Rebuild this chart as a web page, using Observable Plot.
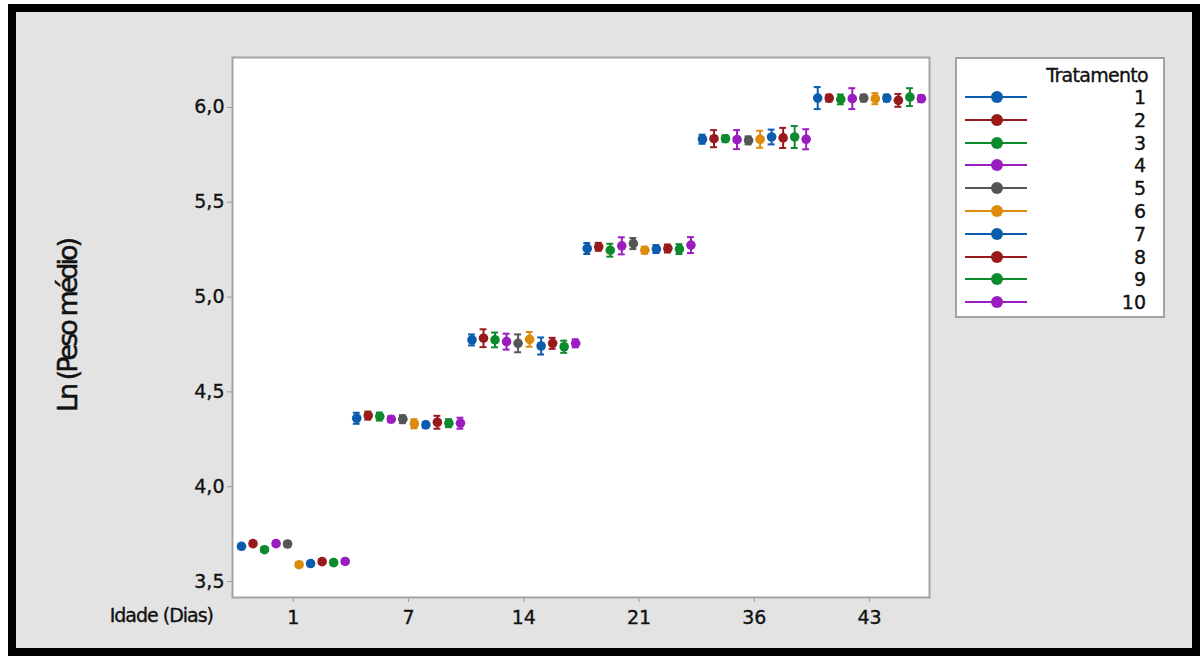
<!DOCTYPE html>
<html>
<head>
<meta charset="utf-8">
<script src="https://cdn.jsdelivr.net/npm/d3@7"></script>
<script src="https://cdn.jsdelivr.net/npm/@observablehq/plot@0.6"></script>
<style>
  html, body { margin: 0; padding: 0; background: #ffffff; }
  #page { position: relative; width: 1202px; height: 661px; overflow: hidden; font-family: "DejaVu Sans", sans-serif; color: #111; }
  #outer { position: absolute; left: 8px; top: 4px; width: 1192px; height: 652px; box-sizing: border-box; border: 8px solid #000; background: #e3e3e3; }
  #chart { position: absolute; left: 0; top: 0; }
  #chart svg text { stroke: #111; stroke-width: 0.35px; }
  .lbl { position: absolute; white-space: nowrap; color: #111; -webkit-text-stroke: 0.35px #111; }
  #ytitle { left: 67px; top: 326px; transform: translate(-50%, -50%) rotate(-90deg); font-size: 27px; letter-spacing: -3px; -webkit-text-stroke: 0.5px #111; }
  #xtitle { right: calc(1202px - 213px); top: 615px; transform: translateY(-50%); font-size: 19px; letter-spacing: -1px; }
  #legend { position: absolute; left: 955px; top: 57px; width: 210px; height: 261px; box-sizing: border-box; border: 2px solid #a3a3a3; background: #fff; }
  #legend .ttl { position: absolute; right: 15px; top: 16px; transform: translateY(-50%); font-size: 19px; letter-spacing: -0.7px; }
  #legend .row { position: absolute; left: 0; width: 206px; height: 22px; }
  #legend .row svg { position: absolute; left: 6px; top: 0; }
  #legend .row span { position: absolute; right: 17px; top: 50%; transform: translateY(-50%); font-size: 19px; -webkit-text-stroke: 0.35px #111; }
</style>
</head>
<body>
<div id="page">
  <div id="outer"></div>
  <div id="chart"></div>
  <div class="lbl" id="ytitle">Ln (Peso médio)</div>
  <div class="lbl" id="xtitle">Idade (Dias)</div>
  <div id="legend"><div class="lbl ttl">Tratamento</div></div>
</div>
<script>
// ---- data ----
const days = ["1", "7", "14", "21", "36", "43"];
const treatments = [1, 2, 3, 4, 5, 6, 7, 8, 9, 10];
const palette = ["#0b5cad", "#981a1a", "#0e8a2e", "#9b1dbf", "#555555", "#dc8c0a", "#0b5cad", "#981a1a", "#0e8a2e", "#9b1dbf"];
const yTicks = [3.5, 4.0, 4.5, 5.0, 5.5, 6.0];

// means of Ln(peso médio) per treatment, by age
const mean1  = [3.686, 3.700, 3.668, 3.700, 3.698, 3.589, 3.595, 3.605, 3.600, 3.606];
const mean7  = [4.361, 4.375, 4.370, 4.356, 4.356, 4.332, 4.326, 4.340, 4.335, 4.335];
const mean14 = [4.774, 4.783, 4.774, 4.765, 4.756, 4.777, 4.742, 4.756, 4.738, 4.756];
const mean21 = [5.256, 5.265, 5.247, 5.270, 5.282, 5.247, 5.253, 5.256, 5.253, 5.274];
const mean36 = [5.832, 5.835, 5.835, 5.830, 5.826, 5.832, 5.844, 5.839, 5.844, 5.832];
const mean43 = [6.049, 6.049, 6.042, 6.046, 6.049, 6.046, 6.049, 6.037, 6.054, 6.046];

// half-width of the 95% intervals
const ci1  = [0.012, 0.012, 0.012, 0.012, 0.012, 0.012, 0.012, 0.012, 0.012, 0.012];
const ci7  = [0.029, 0.021, 0.021, 0.016, 0.021, 0.024, 0.016, 0.034, 0.021, 0.029];
const ci14 = [0.029, 0.047, 0.039, 0.042, 0.047, 0.039, 0.045, 0.029, 0.032, 0.021];
const ci21 = [0.029, 0.021, 0.034, 0.045, 0.029, 0.018, 0.021, 0.021, 0.026, 0.042];
const ci36 = [0.024, 0.045, 0.018, 0.050, 0.021, 0.045, 0.039, 0.053, 0.058, 0.053];
const ci43 = [0.058, 0.018, 0.026, 0.055, 0.018, 0.029, 0.018, 0.034, 0.047, 0.018];

const means = [mean1, mean7, mean14, mean21, mean36, mean43];
const cis = [ci1, ci7, ci14, ci21, ci36, ci43];

const n = treatments.length;
const rows = days.flatMap((d, gi) => treatments.map((t, ti) => ({
  day: d, trat: t, pos: gi * n + ti, mean: means[gi][ti], lo: means[gi][ti] - cis[gi][ti], hi: means[gi][ti] + cis[gi][ti]
})));
const xTicks = days.map((d, i) => i * n + (n - 1) / 2);
const capW = 0.3;

const chart = Plot.plot({
  width: 1202,
  height: 661,
  marginLeft: 232,
  marginRight: 273,
  marginTop: 57,
  marginBottom: 64,
  style: { background: "transparent", fontFamily: "DejaVu Sans, sans-serif", color: "#111", overflow: "visible" },
  x: { domain: [-0.78, days.length * n - 1 + 0.7] },
  y: { domain: [3.416, 6.263] },
  color: { type: "ordinal", domain: treatments, range: palette },
  marks: [
    Plot.frame({ fill: "#ffffff", stroke: null }),
    Plot.axisY({ ticks: yTicks, tickFormat: d => d.toFixed(1).replace(".", ","), tickSize: 5, tickPadding: 3, fontSize: 19, stroke: "#999", fill: "#111", label: null }),
    Plot.axisX({ ticks: xTicks, tickFormat: (d, i) => days[i], tickSize: 5, tickPadding: 8, fontSize: 19, stroke: "#999", fill: "#111", label: null }),
    Plot.ruleX(rows, { x: "pos", y1: "lo", y2: "hi", stroke: "trat", strokeWidth: 2 }),
    Plot.ruleY(rows, { y: "hi", x1: d => d.pos - capW, x2: d => d.pos + capW, stroke: "trat", strokeWidth: 2 }),
    Plot.ruleY(rows, { y: "lo", x1: d => d.pos - capW, x2: d => d.pos + capW, stroke: "trat", strokeWidth: 2 }),
    Plot.dot(rows, { x: "pos", y: "mean", fill: "trat", r: 4.8 }),
    Plot.frame({ stroke: "#a3a3a3", strokeWidth: 2 })
  ]
});
document.getElementById("chart").appendChild(chart);

// legend
const legend = document.getElementById("legend");
const rowCenters0 = 40, rowStep = 22.8;
treatments.forEach((t, i) => {
  const row = document.createElement("div");
  row.className = "row";
  row.style.top = (rowCenters0 - 11 + i * rowStep - 2) + "px";
  const c = palette[i];
  row.innerHTML = `<svg width="66" height="22"><line x1="2" y1="11" x2="64" y2="11" stroke="${c}" stroke-width="2"/><circle cx="34" cy="11" r="6" fill="${c}"/></svg><span>${t}</span>`;
  legend.appendChild(row);
});
</script>
</body>
</html>
